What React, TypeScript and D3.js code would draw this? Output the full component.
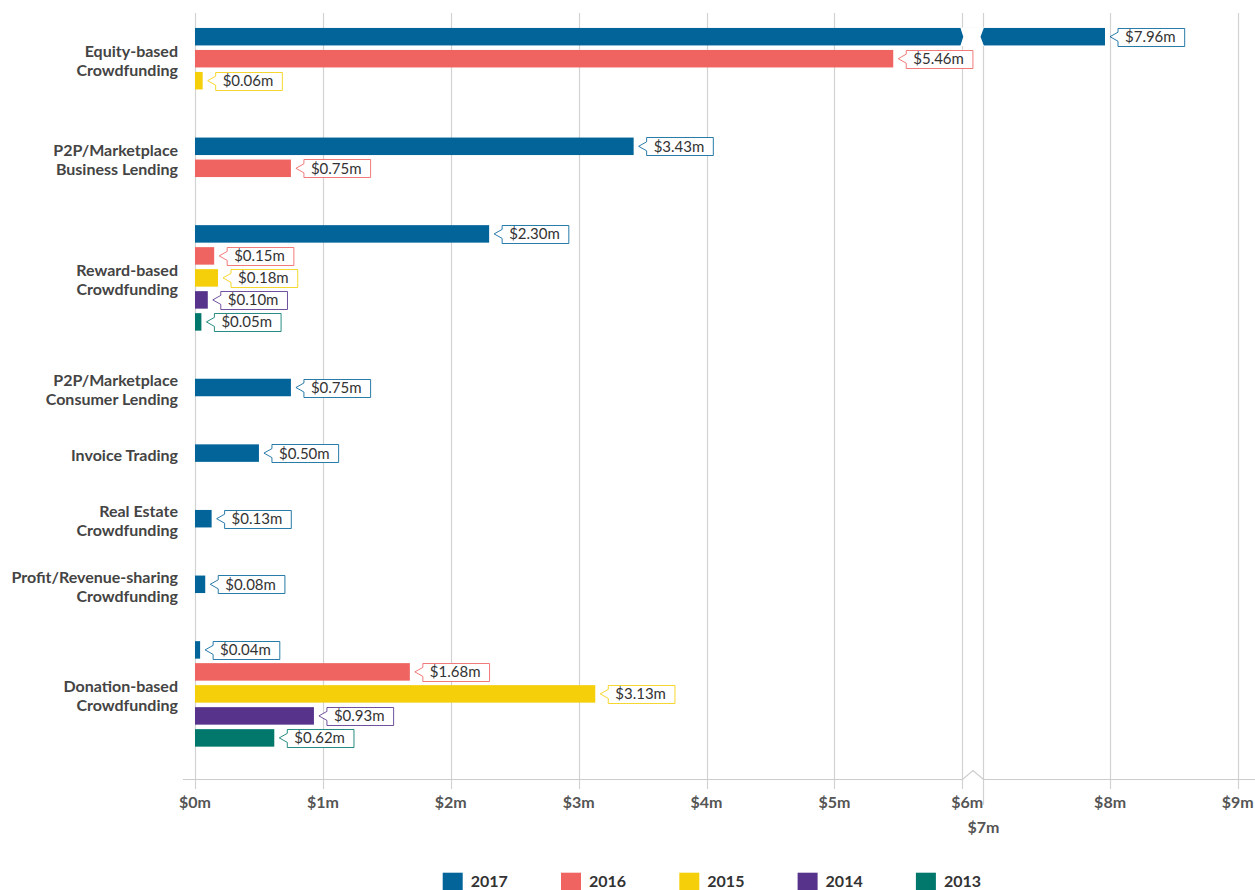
import React, { useEffect, useRef } from "react";
import * as d3 from "d3";

const categories = [
  "Equity-based\nCrowdfunding",
  "P2P/Marketplace\nBusiness Lending",
  "Reward-based\nCrowdfunding",
  "P2P/Marketplace\nConsumer Lending",
  "Invoice Trading",
  "Real Estate\nCrowdfunding",
  "Profit/Revenue-sharing\nCrowdfunding",
  "Donation-based\nCrowdfunding",
];
const years = ["2017", "2016", "2015", "2014", "2013"];
const colors = ["#03649a", "#ef6461", "#f5d00a", "#57338c", "#02786c"];
const v2017 = [7.96, 3.43, 2.3, 0.75, 0.5, 0.13, 0.08, 0.04];
const v2016 = [5.46, 0.75, 0.15, null, null, null, null, 1.68];
const v2015 = [0.06, null, 0.18, null, null, null, null, 3.13];
const v2014 = [null, null, 0.1, null, null, null, null, 0.93];
const v2013 = [null, null, 0.05, null, null, null, null, 0.62];
const seriesValues: (number | null)[][] = [v2017, v2016, v2015, v2014, v2013];
const tickValues = [0, 1, 2, 3, 4, 5, 6, 7, 8, 9];
const tickLabels = ["$0m", "$1m", "$2m", "$3m", "$4m", "$5m", "$6m", "$7m", "$8m", "$9m"];

const W = 1255;
const H = 890;

export default function App() {
  const ref = useRef<SVGSVGElement>(null);

  useEffect(() => {
    const svg = d3.select(ref.current);
    svg.selectAll("*").remove();

    const plotTop = 13;
    const axisY = 779;
    const x = d3.scaleLinear().domain([0, 6, 7, 9]).range([195, 962.3, 982.5, 1237.7]);

    // category layout in slot units
    const slotPx = 22;
    const padUnits = 43.6 / slotPx;
    const counts = categories.map((_, ci) => seriesValues.filter((s) => s[ci] != null).length);
    const starts: number[] = [];
    let acc = 0;
    counts.forEach((n) => {
      starts.push(acc);
      acc += padUnits + n;
    });
    const y = d3.scaleLinear().domain([0, acc]).range([3.9, 3.9 + acc * slotPx]);
    const catCenter = (ci: number) => y(starts[ci] + (padUnits + counts[ci]) / 2);

    // gridlines
    const grid = svg.append("g");
    tickValues.forEach((t) => {
      grid
        .append("line")
        .attr("x1", Math.round(x(t)) + 0.5)
        .attr("x2", Math.round(x(t)) + 0.5)
        .attr("y1", plotTop)
        .attr("y2", t === 7 ? 805 : axisY + 10)
        .attr("stroke", "#d2d2d2")
        .attr("stroke-width", 1.2);
    });

    // axis line with break marker
    const bx1 = Math.round(x(6)) + 0.5;
    const bx2 = Math.round(x(7)) + 0.5;
    svg
      .append("path")
      .attr("d", `M183,${axisY + 0.5} H${bx1} L${(bx1 + bx2) / 2},${axisY - 8.5} L${bx2},${axisY + 0.5} H${W}`)
      .attr("fill", "none")
      .attr("stroke", "#cccccc")
      .attr("stroke-width", 1.2);

    // tick labels
    tickValues.forEach((t, i) => {
      svg
        .append("text")
        .attr("x", x(t) + (t === 6 ? 5 : t === 7 ? 1 : 0))
        .attr("y", t === 7 ? 833 : 808)
        .attr("text-anchor", "middle")
        .attr("font-family", "Lato, sans-serif")
        .attr("font-weight", "bold")
        .attr("font-size", 16)
        .attr("fill", "#555555")
        .text(tickLabels[i]);
    });

    // category labels
    categories.forEach((c, ci) => {
      const lines = c.split("\n");
      const cy = catCenter(ci);
      const t = svg
        .append("text")
        .attr("text-anchor", "end")
        .attr("font-family", "Lato, sans-serif")
        .attr("font-weight", "bold")
        .attr("font-size", 16)
        .attr("fill", "#444444");
      const base = lines.length === 1 ? cy + 8 : cy - 1.5;
      lines.forEach((l, li) => {
        t.append("tspan").attr("x", 178).attr("y", base + li * 18.7).text(l);
      });
    });

    // bars + labels
    const barH = 17.5;
    const labelsG: { x: number; cy: number; text: string; color: string }[] = [];
    categories.forEach((_, ci) => {
      const present = seriesValues.map((s, si) => ({ si, v: s[ci] })).filter((d) => d.v != null) as {
        si: number;
        v: number;
      }[];
      const n = present.length;
      const cc = catCenter(ci);
      present.forEach((d, i) => {
        const cy = cc + (i - (n - 1) / 2) * slotPx;
        svg
          .append("rect")
          .attr("x", x(0))
          .attr("y", cy - barH / 2)
          .attr("width", x(d.v) - x(0))
          .attr("height", barH)
          .attr("fill", colors[d.si]);
        if (d.v > 7) {
          // break gap in bar
          const l = x(6) - 2;
          const r = x(7) + 1.5;
          const top = cy - barH / 2 - 0.5;
          const bot = cy + barH / 2 + 0.5;
          svg
            .append("path")
            .attr(
              "d",
              `M${l},${top} H${r} L${r - 3.5},${cy} L${r},${bot} H${l} L${l + 3},${cy} Z`
            )
            .attr("fill", "#ffffff");
        }
        labelsG.push({ x: x(d.v), cy, text: "$" + d.v.toFixed(2) + "m", color: colors[d.si] });
      });
    });

    labelsG.forEach((lb) => {
      const g = svg.append("g");
      const tip = lb.x + 5;
      const bx = tip + 8;
      const txt = g
        .append("text")
        .attr("x", bx + 7)
        .attr("y", lb.cy + 5.5)
        .attr("font-family", "Lato, sans-serif")
        .attr("font-size", 15)
        .attr("fill", "#333333")
        .text(lb.text);
      const tl = (txt.node() as SVGTextElement).getComputedTextLength();
      const w = tl + 16;
      const top = Math.round(lb.cy - 9) + 0.5;
      const bot = top + 18;
      g.insert("path", "text")
        .attr(
          "d",
          `M${bx},${top} H${bx + w} V${bot} H${bx} V${lb.cy + 4.5} L${tip},${lb.cy} L${bx},${lb.cy - 4.5} Z`
        )
        .attr("fill", "#ffffff")
        .attr("stroke", lb.color)
        .attr("stroke-opacity", 0.85)
        .attr("stroke-width", 1);
    });

    // legend
    years.forEach((yr, i) => {
      const lx = 442.7 + i * 118.3;
      svg
        .append("rect")
        .attr("x", lx)
        .attr("y", 872.7)
        .attr("width", 20)
        .attr("height", 20)
        .attr("fill", colors[i]);
      svg
        .append("text")
        .attr("x", lx + 28)
        .attr("y", 887.3)
        .attr("font-family", "Lato, sans-serif")
        .attr("font-weight", "bold")
        .attr("font-size", 16)
        .attr("fill", "#333333")
        .text(yr);
    });
  }, []);

  return (
    <svg
      ref={ref}
      width={W}
      height={H}
      style={{ position: "absolute", left: 0, top: 0, background: "#ffffff" }}
    />
  );
}
